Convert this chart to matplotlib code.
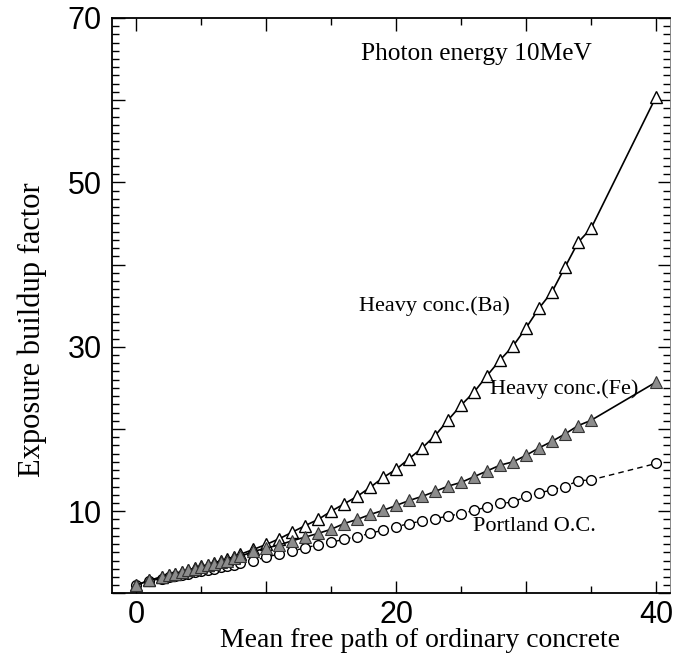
import matplotlib
matplotlib.use("Agg")
import matplotlib.pyplot as plt
from matplotlib.ticker import MultipleLocator, FixedLocator, FixedFormatter

# ---- data ----
mfp = [0, 1, 2, 2.5, 3, 3.5, 4, 4.5, 5, 5.5, 6, 6.5, 7, 7.5, 8,
       9, 10, 11, 12, 13, 14, 15, 16, 17, 18, 19, 20, 21, 22, 23, 24, 25,
       26, 27, 28, 29, 30, 31, 32, 33, 34, 35, 40]

ba = [1.0, 1.6, 2.0, 2.2, 2.4, 2.6, 2.85, 3.05, 3.3, 3.5, 3.75, 3.95, 4.2, 4.45, 4.75,
      5.35, 5.95, 6.65, 7.45, 8.25, 9.0, 10.0, 10.9, 11.8, 12.9, 14.1, 15.1, 16.4, 17.7, 19.2,
      21.1, 22.9, 24.5, 26.5, 28.4, 30.1, 32.3, 34.7, 36.7, 39.7, 42.7, 44.4, 60.4]

fe = [1.0, 1.6, 2.0, 2.2, 2.4, 2.6, 2.8, 3.0, 3.2, 3.4, 3.6, 3.8, 4.0, 4.25, 4.5,
      5.1, 5.5, 5.9, 6.4, 6.85, 7.3, 7.8, 8.5, 9.0, 9.6, 10.1, 10.7, 11.3, 11.8, 12.4,
      13.05, 13.5, 14.2, 14.9, 15.6, 16.0, 16.8, 17.7, 18.5, 19.4, 20.4, 21.05, 25.7]

portland = [1.0, 1.5, 1.8, 1.95, 2.1, 2.25, 2.4, 2.55, 2.7, 2.85, 3.0, 3.15, 3.3, 3.5, 3.7,
            4.0, 4.4, 4.8, 5.15, 5.55, 5.9, 6.2, 6.6, 6.9, 7.3, 7.7, 8.1, 8.5, 8.8, 9.1,
            9.4, 9.7, 10.1, 10.5, 10.95, 11.1, 11.8, 12.2, 12.6, 13.0, 13.7, 13.8, 15.8]

xtick_labels = ["0", "", "20", "", "40"]
ytick_labels = ["", "10", "", "30", "", "50", "", "70"]

serif = ["Liberation Serif", "DejaVu Serif"]
sans = ["Liberation Sans Narrow", "Liberation Sans", "DejaVu Sans"]

fig = plt.figure(figsize=(6.73, 6.63), dpi=100)
ax = fig.add_axes([0.166, 0.105, 0.830, 0.868])

ax.plot(mfp, portland, linestyle=(0, (4, 3)), color="black", lw=1.0,
        marker="o", markersize=7, markerfacecolor="white",
        markeredgecolor="black", markeredgewidth=1.0, zorder=2)
ax.plot(mfp, ba, linestyle="-", color="black", lw=1.2,
        marker="^", markersize=8, markerfacecolor="white",
        markeredgecolor="black", markeredgewidth=1.0, zorder=3)
ax.plot(mfp, fe, linestyle="-", color="black", lw=1.2,
        marker="^", markersize=8, markerfacecolor="#8c8c8c",
        markeredgecolor="#333333", markeredgewidth=0.8, zorder=4)

ax.set_xlim(-1.9, 41.1)
ax.set_ylim(0, 70)

ax.xaxis.set_major_locator(FixedLocator([0, 10, 20, 30, 40]))
ax.xaxis.set_major_formatter(FixedFormatter(xtick_labels))
ax.xaxis.set_minor_locator(MultipleLocator(5))
ax.yaxis.set_major_locator(FixedLocator([0, 10, 20, 30, 40, 50, 60, 70]))
ax.yaxis.set_major_formatter(FixedFormatter(ytick_labels))
ax.yaxis.set_minor_locator(MultipleLocator(1))

ax.tick_params(which="both", direction="in", top=True, right=True, width=1.0)
ax.tick_params(which="major", length=9)
ax.tick_params(axis="x", which="major", pad=5)
ax.tick_params(axis="y", which="major", pad=7)
ax.tick_params(which="minor", length=5)
for lab in ax.get_xticklabels() + ax.get_yticklabels():
    lab.set_family(sans)
    lab.set_fontsize(22)

for s in ["left", "bottom", "top"]:
    ax.spines[s].set_linewidth(1.3)
ax.spines["right"].set_linewidth(0.6)
ax.spines["right"].set_color("#777777")

ax.set_xlabel("Mean free path of ordinary concrete", family=serif, fontsize=20,
              va="center", ha="center")
ax.xaxis.set_label_coords(0.552, -0.082)
ax.set_ylabel("Exposure buildup factor", family=serif, fontsize=22,
              va="center", ha="center")
ax.yaxis.set_label_coords(-0.142, 0.459)

ax.text(17.3, 65.6, "Photon energy 10MeV", family=serif, fontsize=18.3, va="center", ha="left")
ax.text(17.1, 34.9, "Heavy conc.(Ba)", family=serif, fontsize=16, va="center", ha="left")
ax.text(27.2, 24.9, "Heavy conc.(Fe)", family=serif, fontsize=16, va="center", ha="left")
ax.text(25.9, 8.1, "Portland O.C.", family=serif, fontsize=16, va="center", ha="left")

fig.savefig("out.png", dpi=100)
